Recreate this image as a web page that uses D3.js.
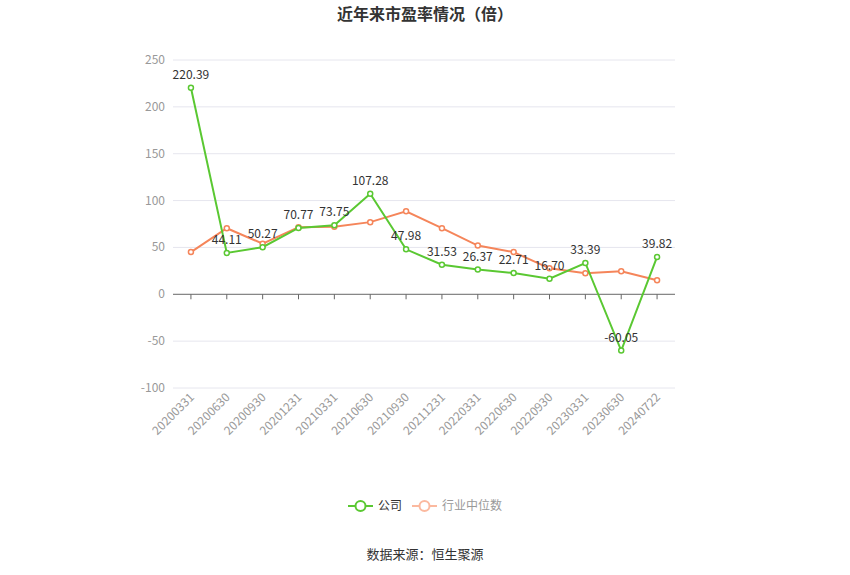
<!DOCTYPE html>
<html><head><meta charset="utf-8">
<script src="https://cdn.jsdelivr.net/npm/d3@7"></script>
<style>body{margin:0;background:#fff;font-family:"Noto Sans CJK SC","Noto Sans",sans-serif;}</style>
</head><body>
<svg id="c" width="850" height="575"></svg>
<script>
var categories = ["20200331","20200630","20200930","20201231","20210331","20210630","20210930","20211231","20220331","20220630","20220930","20230331","20230630","20240722"];
var company = [220.39,44.11,50.27,70.77,73.75,107.28,47.98,31.53,26.37,22.71,16.70,33.39,-60.05,39.82];
var industry = [45,70.5,54,71.5,72,77,88.6,70.5,52,45,27.7,22.4,24.5,15];
var yTicks = [-100,-50,0,50,100,150,200,250];

(function() {
var svg = d3.select('#c');
var plotLeft = 173, plotRight = 675, plotTop = 60, plotBottom = 388;
var x = d3.scaleBand().domain(categories).range([plotLeft, plotRight]);
var y = d3.scaleLinear().domain([-100, 250]).range([plotBottom, plotTop]);
var cx = function(d, i) { return x(categories[i]) + x.bandwidth() / 2; };
var cy = function(d) { return y(d); };

svg.append('text').attr('x', 425).attr('y', 20).attr('text-anchor', 'middle')
	.style('font-size', '16px').style('font-weight', 'bold').style('fill', '#333').text('近年来市盈率情况（倍）');

// grid
svg.append('g').selectAll('line').data(yTicks.filter(function(t) { return t !== 0; })).enter().append('line')
	.attr('x1', plotLeft).attr('x2', plotRight).attr('y1', cy).attr('y2', cy)
	.style('stroke', '#e6e6ee').style('stroke-width', 1);
svg.append('g').selectAll('text').data(yTicks).enter().append('text')
	.attr('x', plotLeft - 8).attr('y', function(d) { return y(d) + 4; }).attr('text-anchor', 'end')
	.style('font-size', '12px').style('fill', '#999').text(function(d) { return d; });

// zero axis with ticks
svg.append('line').attr('x1', plotLeft).attr('x2', plotRight).attr('y1', y(0)).attr('y2', y(0)).style('stroke', '#666');
svg.append('g').selectAll('line').data(categories).enter().append('line')
	.attr('x1', cx).attr('x2', cx)
	.attr('y1', y(0)).attr('y2', y(0) + 5).style('stroke', '#666');

svg.append('g').selectAll('text').data(categories).enter().append('text')
	.attr('transform', function(d, i) { return 'translate(' + (cx(d, i) + 4) + ',' + (plotBottom + 10) + ') rotate(-45)'; })
	.attr('text-anchor', 'end').style('font-size', '12px').style('fill', '#999').text(function(d) { return d; });

var line = d3.line().x(cx).y(cy);
function series(data, color) {
	svg.append('path').datum(data).attr('d', line).style('fill', 'none').style('stroke', color).style('stroke-width', 2);
	svg.append('g').selectAll('circle').data(data).enter().append('circle')
		.attr('cx', cx).attr('cy', cy).attr('r', 2.5)
		.style('fill', '#fff').style('stroke', color).style('stroke-width', 1.5);
}
series(industry, '#f5855a');
series(company, '#5ac832');

svg.append('g').selectAll('text').data(company).enter().append('text')
	.attr('x', cx).attr('y', function(d) { return y(d) - 9; }).attr('text-anchor', 'middle')
	.style('font-size', '12px').style('fill', '#333').text(function(d) { return d.toFixed(2); });

// legend
var lg = svg.append('g').attr('transform', 'translate(0,506)');
lg.append('line').attr('x1', 348).attr('x2', 373).style('stroke', '#5ac832').style('stroke-width', 2);
lg.append('circle').attr('cx', 360.5).attr('r', 5).style('fill', '#fff').style('stroke', '#5ac832').style('stroke-width', 2);
lg.append('text').attr('x', 378).attr('y', 4).style('font-size', '12px').style('fill', '#333').text('公司');
lg.append('line').attr('x1', 412).attr('x2', 437).style('stroke', '#fbb99f').style('stroke-width', 2);
lg.append('circle').attr('cx', 424.5).attr('r', 5).style('fill', '#fff').style('stroke', '#fbb99f').style('stroke-width', 2);
lg.append('text').attr('x', 442).attr('y', 4).style('font-size', '12px').style('fill', '#999').text('行业中位数');

svg.append('text').attr('x', 425).attr('y', 559).attr('text-anchor', 'middle')
	.style('font-size', '13px').style('fill', '#333').text('数据来源：恒生聚源');
})();
</script>
</body></html>
